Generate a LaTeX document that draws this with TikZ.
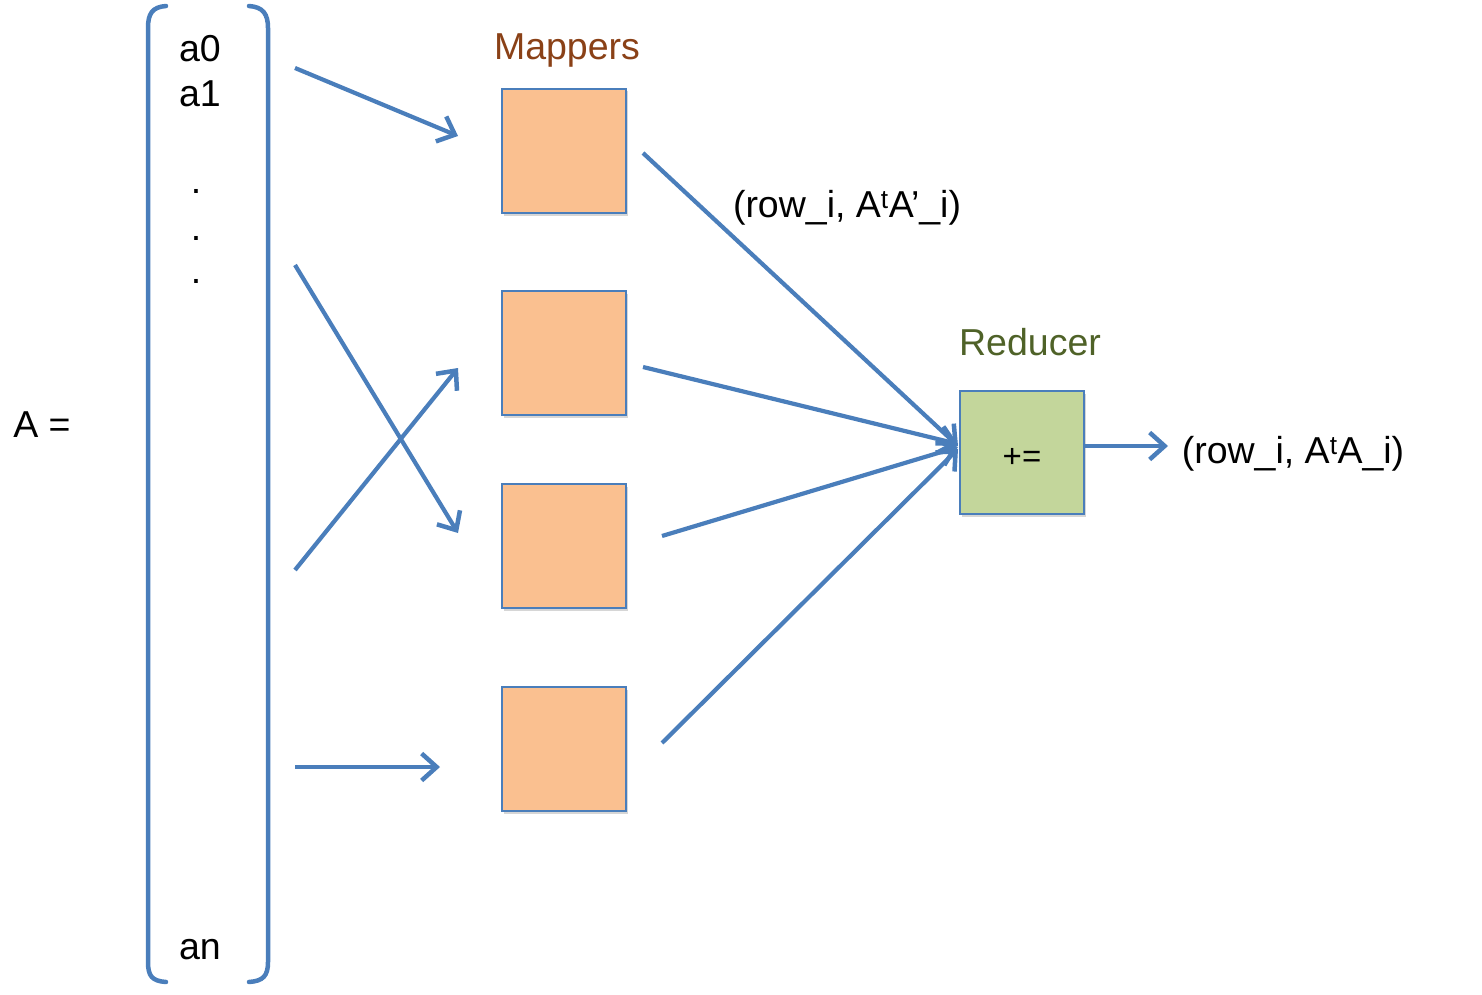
\documentclass[tikz,border=0pt]{standalone}
\usepackage{fontspec}
\setmainfont{Liberation Sans}
\usetikzlibrary{arrows.meta,shadows,calc}
\definecolor{lineblue}{HTML}{4A7EBB}
\definecolor{peach}{HTML}{FAC090}
\definecolor{olivefill}{HTML}{C3D69B}
\definecolor{brown}{HTML}{8A4117}
\definecolor{olivetext}{HTML}{4F6228}
\tikzset{
  txt/.style={inner sep=0pt, font=\fontsize{37.5}{44}\selectfont},
  mapbox/.style={draw=lineblue, line width=1.5pt, fill=peach, minimum width=124pt, minimum height=124pt, inner sep=0pt,
    drop shadow={shadow xshift=1.5pt, shadow yshift=-2.5pt, fill=black!40, opacity=0.4}},
  redbox/.style={mapbox, fill=olivefill, minimum height=123pt},
  conn/.style={draw=lineblue, line width=4.2pt, -{Straight Barb[length=15pt,width=27pt,line width=4.5pt]}},
  brack/.style={draw=lineblue, line width=4.5pt, line cap=round}
}
\begin{document}
\begin{tikzpicture}[x=1pt,y=-1pt]
\useasboundingbox (0,0) rectangle (1482,995);
% bracket
\draw[brack] (166,6) .. controls (152,7) and (148,14) .. (148,28) -- (148,962) .. controls (148,976) and (152,981) .. (166,982);
\draw[brack] (249,6) .. controls (263,7) and (268,14) .. (268,28) -- (268,962) .. controls (268,976) and (263,981) .. (249,982);
% matrix entries
\node[txt] (A) at (42,425) {A =};
\node[txt] (a0) at (200,49) {a0};
\node[txt] (a1) at (200,94) {a1};
\node[txt] (d1) at (196,191) {.};
\node[txt] (d2) at (196,238) {.};
\node[txt] (d3) at (196,281) {.};
\node[txt] (an) at (200,950) {an};
% boxes
\node[mapbox] (m1) at (564,151) {};
\node[mapbox] (m2) at (564,353) {};
\node[mapbox] (m3) at (564,546) {};
\node[mapbox] (m4) at (564,749) {};
\node[redbox] (red) at (1022,452.5) {};
\node[txt, font=\fontsize{33}{38}\selectfont] (pe) at (1022,458) {+=};
% labels
\node[txt, text=brown] (map) at (567,50) {Mappers};
\node[txt, text=olivetext] (redl) at (1030,342) {Reducer};
\node[txt] (lab1) at (847,208) {(row\_i, A\textsuperscript{t}A’\_i)};
\node[txt] (lab2) at (1293,454) {(row\_i, A\textsuperscript{t}A\_i)};
% coordinates
\coordinate (s1) at (295,68);
\coordinate (e1) at (458,136);
\coordinate (s2) at (295,265);
\coordinate (e2) at (458,533);
\coordinate (s3) at (295,570);
\coordinate (e3) at (458,368);
\coordinate (s4) at (295,767);
\coordinate (e4) at (440,767);
\coordinate (o1) at (643,153);
\coordinate (o2) at (643,367);
\coordinate (o3) at (662,536);
\coordinate (o4) at (662,743);
\coordinate (r1) at (958,446);
\coordinate (r2) at (958,444);
\coordinate (r3) at (958,447);
\coordinate (r4) at (958,449);
\coordinate (out) at (1168,446);
% connectors
\draw[conn] (s1) -- (e1);
\draw[conn] (s2) -- (e2);
\draw[conn] (s3) -- (e3);
\draw[conn] (s4) -- (e4);
\draw[conn] (o1) -- (r1);
\draw[conn] (o2) -- (r2);
\draw[conn] (o3) -- (r3);
\draw[conn] (o4) -- (r4);
\draw[conn] (red.east |- out) -- (out);
\end{tikzpicture}
\end{document}
